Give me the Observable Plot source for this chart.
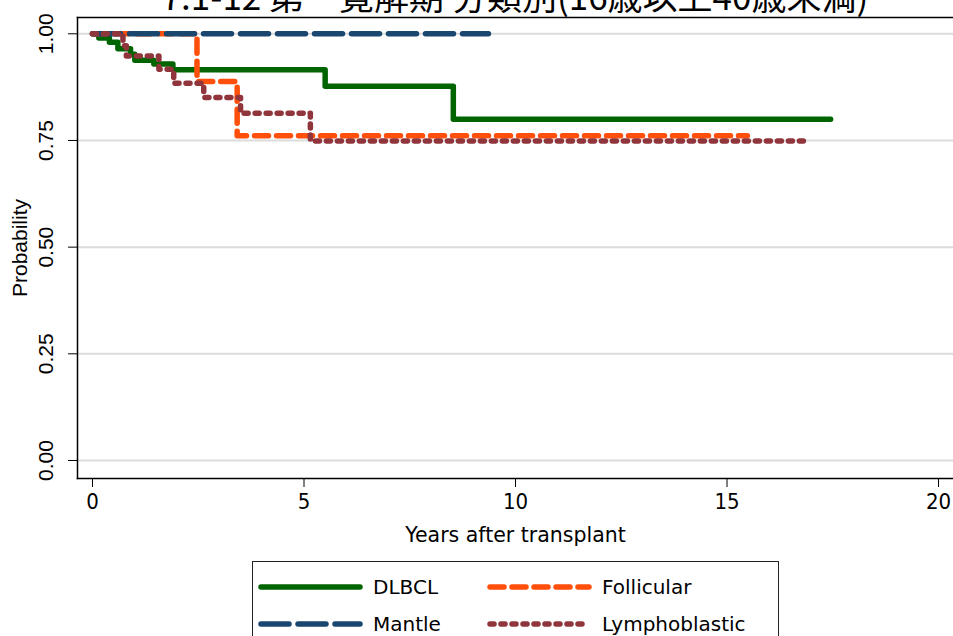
<!DOCTYPE html>
<html>
<head>
<meta charset="utf-8">
<script src="https://cdn.jsdelivr.net/npm/d3@7"></script>
<script src="https://cdn.jsdelivr.net/npm/@observablehq/plot@0.6"></script>
<style>
  html, body { margin:0; padding:0; background:#fff; width:953px; height:636px; overflow:hidden; position:relative; }
  #title { position:absolute; left:0; width:1030px; text-align:center; top:-23px; font-family:"Noto Sans CJK JP", sans-serif; font-size:35px; line-height:1; white-space:nowrap; color:#000; z-index:2; }
  #chart { position:absolute; left:0; top:0; }
  #legend { position:absolute; left:252px; top:561px; width:525px; height:110px; border:1px solid #222; font-family:"DejaVu Sans", sans-serif; font-size:20px; background:#fff; }
  .item { position:absolute; display:flex; align-items:center; }
  .item span { margin-left:9px; }
</style>
</head>
<body>
<div id="title">7.1-12 第一寛解期 分類別(16歳以上40歳未満)</div>
<div id="chart"></div>
<div id="legend"></div>
<script>
const groups = ["DLBCL", "Mantle", "Follicular", "Lymphoblastic"];
const colors = ["#006400", "#1a476f", "#ff4f0a", "#90353b"];
const dashes = ["none", "28,9", "14,8", "4,7"];

const dlbclTime = [0, 0.15, 0.4, 0.6, 0.9, 1.0, 1.45, 1.9, 5.5, 8.53, 17.45];
const dlbclSurv = [1, 0.99, 0.98, 0.965, 0.952, 0.938, 0.929, 0.916, 0.877, 0.80, 0.80];
const mantleTime = [0, 9.36];
const mantleSurv = [1, 1];
const follTime = [0, 2.47, 3.42, 15.48];
const follSurv = [1, 0.888, 0.761, 0.761];
const lymphTime = [0, 0.72, 0.8, 1.57, 1.92, 2.63, 3.50, 5.15, 16.86];
const lymphSurv = [1, 0.972, 0.948, 0.917, 0.884, 0.851, 0.814, 0.749, 0.749];

const xTicks = [0, 5, 10, 15, 20];
const yTicks = [0, 0.25, 0.5, 0.75, 1];

const series = {
  DLBCL: [dlbclTime, dlbclSurv],
  Mantle: [mantleTime, mantleSurv],
  Follicular: [follTime, follSurv],
  Lymphoblastic: [lymphTime, lymphSurv]
};
const rows = g => series[g][0].map((t, i) => ({t, s: series[g][1][i], g}));
const drawOrder = ["DLBCL", "Follicular", "Mantle", "Lymphoblastic"];

const lineMarks = drawOrder.map(g => {
  const k = groups.indexOf(g);
  return Plot.line(rows(g), {
    x: "t", y: "s", curve: "step-after",
    stroke: colors[k], strokeWidth: 5.5, strokeDasharray: dashes[k],
    strokeLinecap: "round", strokeLinejoin: "round"
  });
});

const plot = Plot.plot({
  width: 953, height: 555,
  marginTop: 17, marginLeft: 77, marginRight: 0, marginBottom: 77,
  x: {domain: [0, 20], range: [92, 938]},
  y: {domain: [0, 1], range: [460, 33.3]},
  style: {fontFamily: "'Liberation Sans', Arial, sans-serif", background: "white", color: "black"},
  marks: [
    Plot.gridY(yTicks, {stroke: "#dcdcdc", strokeOpacity: 1, strokeWidth: 2}),
    Plot.frame({anchor: "left", stroke: "black", strokeWidth: 1.5}),
    Plot.frame({anchor: "bottom", stroke: "black", strokeWidth: 1.5}),
    Plot.frame({anchor: "top", stroke: "black", strokeWidth: 1.5}),
    Plot.axisY(yTicks, {tickSize: 9, tickFormat: () => "", label: null}),
    Plot.text(yTicks, {y: d => d, text: d => d.toFixed(2), frameAnchor: "left", dx: -31, rotate: -90, textAnchor: "middle", lineAnchor: "middle", fontSize: 21}),
    Plot.axisX(xTicks, {tickSize: 9, tickPadding: 6, fontSize: 22, label: null, fontFamily: "'Liberation Sans Narrow', 'DejaVu Sans Condensed', sans-serif"}),
    Plot.text(["Years after transplant"], {frameAnchor: "bottom", dy: 57, lineAnchor: "middle", fontSize: 20.5, fontFamily: "'DejaVu Sans', sans-serif"}),
    Plot.text(["Probability"], {frameAnchor: "left", dx: -57, rotate: -90, lineAnchor: "middle", textAnchor: "middle", fontSize: 21}),
    ...lineMarks
  ]
});
document.getElementById("chart").appendChild(plot);

// legend
const legend = document.getElementById("legend");
const pos = {DLBCL: [8, 25], Follicular: [237, 25], Mantle: [8, 62], Lymphoblastic: [237, 62]};
groups.forEach((g, k) => {
  const [lx, ly] = pos[g];
  const div = document.createElement("div");
  div.className = "item";
  div.style.left = (lx - 3) + "px";
  div.style.top = (ly - 14) + "px";
  div.style.height = "28px";
  div.innerHTML = `<svg width="106" height="10"><line x1="3" x2="102" y1="5" y2="5" stroke="${colors[k]}" stroke-width="5.5" stroke-linecap="round" stroke-dasharray="${dashes[k] === "none" ? "" : dashes[k]}"/></svg><span>${g}</span>`;
  legend.appendChild(div);
});
</script>
</body>
</html>
